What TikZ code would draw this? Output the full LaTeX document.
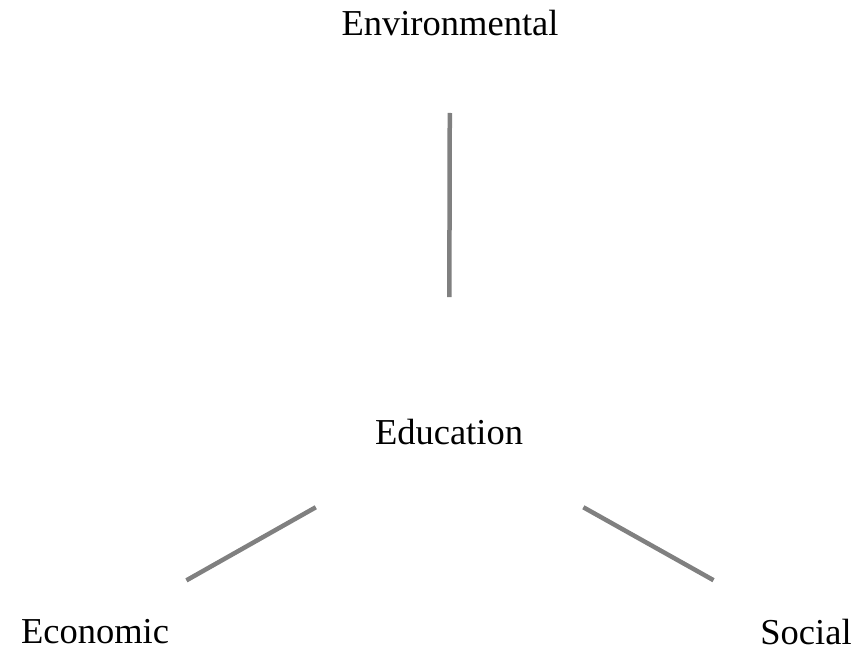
\documentclass[tikz,border=0pt]{standalone}
\usepackage{fontspec}
\setmainfont{Liberation Serif}

\tikzset{
	pillar/.style={font=\fontsize{36.5}{42}\selectfont, inner sep=0pt},
	link/.style={line width=4.5pt, black!50}
}

\begin{document}
\begin{tikzpicture}[x=1pt, y=-1pt]
	\useasboundingbox (0,0) rectangle (858,650);
	\node[pillar] (env) at (450,23) {Environmental};
	\node[pillar] (edu) at (449,432) {Education};
	\node[pillar] (eco) at (95,632) {Economic};
	\node[pillar] (soc) at (806,632) {Social};
	\draw[link, shorten <=90pt, shorten >=135pt] (env.center) -- (edu.center);
	\draw[link, shorten <=153pt, shorten >=105pt] (edu.center) -- (eco.center);
	\draw[link, shorten <=154pt, shorten >=106pt] (edu.center) -- (soc.center);
\end{tikzpicture}
\end{document}
